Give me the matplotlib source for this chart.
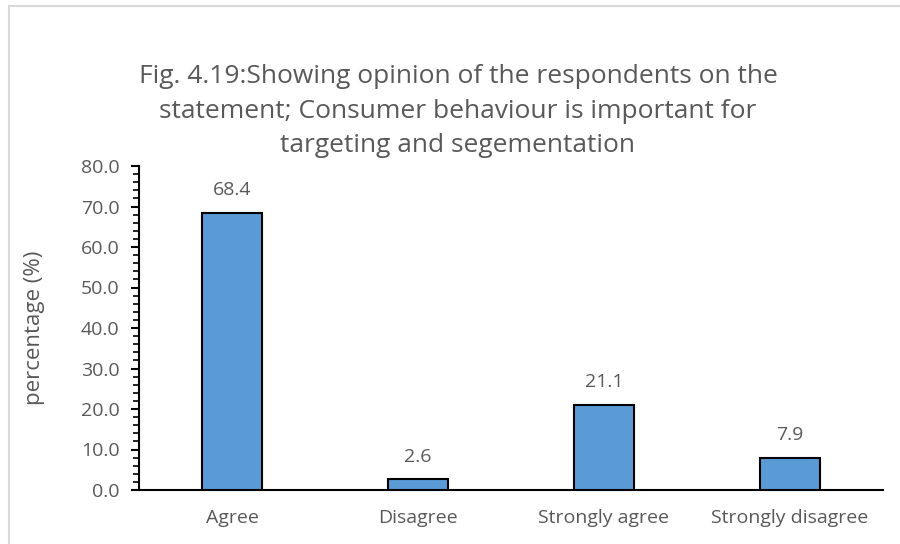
import matplotlib
matplotlib.use("Agg")
import matplotlib.pyplot as plt
from matplotlib.patches import Rectangle
from matplotlib.ticker import MultipleLocator, FormatStrFormatter

categories = ["Agree", "Disagree", "Strongly agree", "Strongly disagree"]
values = [68.4, 2.6, 21.1, 7.9]
title = ("Fig. 4.19:Showing opinion of the respondents on the\n"
         "statement; Consumer behaviour is important for\n"
         "targeting and segementation")
ylabel = "percentage (%)"

plt.rcParams['font.family'] = ['Open Sans', 'DejaVu Sans']
txt = "#595959"

fig = plt.figure(figsize=(9, 5.44), dpi=100)
fig.patches.append(Rectangle((9/900, -0.1), 1.2, 1 - 6/544 + 0.1, transform=fig.transFigure,
                             fill=False, edgecolor="#d9d9d9", linewidth=1.5))
ax = fig.add_axes([139/900, 1 - 490/544, (883-139)/900, (490-166)/544])

x = range(len(categories))
bars = ax.bar(x, values, width=0.32, color="#5b9bd5", edgecolor="black", linewidth=1.5, zorder=3)
for xi, v in zip(x, values):
    ax.annotate(f"{v:.1f}", (xi, v), xytext=(0, 10), textcoords="offset points",
                ha="center", va="bottom", fontsize=14, color=txt)

ax.set_xlim(-0.5, 3.5)
ax.set_ylim(0, 80)
ax.set_xticks(list(x))
ax.set_xticklabels(categories, fontsize=14, color=txt)
ax.yaxis.set_major_locator(MultipleLocator(10))
ax.yaxis.set_minor_locator(MultipleLocator(2))
ax.yaxis.set_major_formatter(FormatStrFormatter("%.1f"))
ax.tick_params(axis="y", which="major", length=6, width=1.5, labelsize=14, labelcolor=txt,
               color="black", pad=8)
ax.tick_params(axis="y", which="minor", length=4, width=1.2, color="black")
ax.tick_params(axis="x", length=0, pad=14)
for s in ["top", "right"]:
    ax.spines[s].set_visible(False)
ax.spines["left"].set_linewidth(1.5)
ax.spines["bottom"].set_linewidth(1.5)
ax.spines["bottom"].set_color("black")
ax.set_ylabel(ylabel, fontsize=16, color=txt, labelpad=26)

fig.text(458/900, 1 - 64/544, title, ha="center", va="top", fontsize=19, color=txt, linespacing=1.5)

fig.savefig("out.png", dpi=100)
